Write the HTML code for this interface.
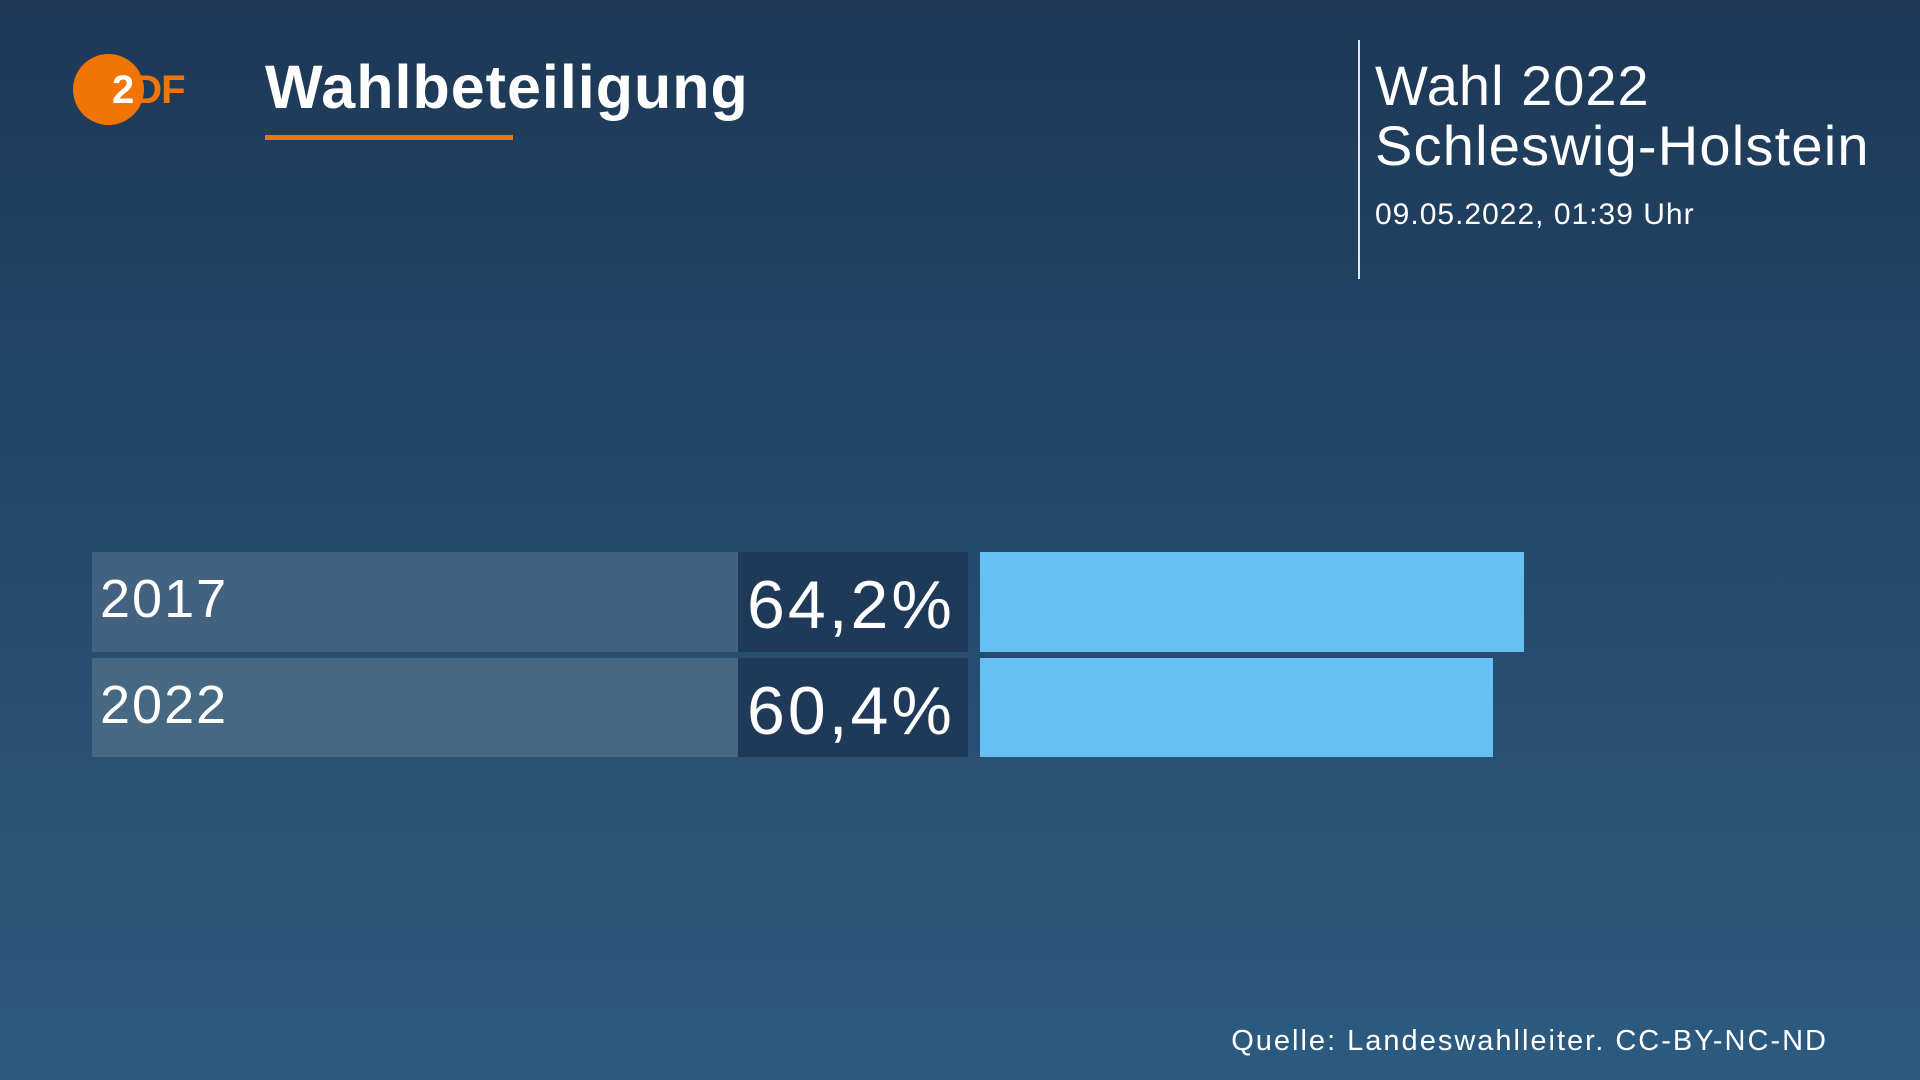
<!DOCTYPE html>
<html><head><meta charset="utf-8"><style>
body{margin:0;width:1920px;height:1080px;overflow:hidden;background:linear-gradient(180deg,#1e3856 0%,#244a6c 50%,#2d5b80 100%);font-family:"Liberation Sans",sans-serif;color:#fff;position:relative}
div{position:absolute}
.t{white-space:nowrap;line-height:1}
</style></head><body>
<div style="left:73px;top:54px;width:71px;height:71px;border-radius:50%;background:#f27405"></div>
<div class="t" style="left:112px;top:70px;font-size:40px;font-weight:bold;letter-spacing:-1px;color:#fff">2<span style="color:#f27405">DF</span></div>
<div class="t" style="left:265px;top:57px;font-size:61px;font-weight:bold;letter-spacing:1px">Wahlbeteiligung</div>
<div style="left:265px;top:135px;width:248px;height:5px;background:#f27405"></div>
<div style="left:1358px;top:40px;width:2px;height:239px;background:#dfe6ee"></div>
<div class="t" style="left:1375px;top:58px;font-size:56px;letter-spacing:1px">Wahl 2022</div>
<div class="t" style="left:1375px;top:118px;font-size:56px;letter-spacing:1.2px">Schleswig-Holstein</div>
<div class="t" style="left:1375px;top:200px;font-size:30px;letter-spacing:1px">09.05.2022, 01:39 Uhr</div>

<div style="left:92px;top:552px;width:646px;height:100px;background:#43627f"></div>
<div style="left:738px;top:552px;width:230px;height:100px;background:#1e3a58"></div>
<div style="left:980px;top:552px;width:544px;height:100px;background:#67bff4"></div>
<div class="t" style="left:100px;top:572px;font-size:54px;letter-spacing:2px">2017</div>
<div class="t" style="left:747px;top:571px;font-size:68px;letter-spacing:3px">64,2%</div>

<div style="left:92px;top:658px;width:646px;height:99px;background:#466883"></div>
<div style="left:738px;top:658px;width:230px;height:99px;background:#1e3a58"></div>
<div style="left:980px;top:658px;width:513px;height:99px;background:#67bff4"></div>
<div class="t" style="left:100px;top:678px;font-size:54px;letter-spacing:2px">2022</div>
<div class="t" style="left:747px;top:677px;font-size:68px;letter-spacing:3px">60,4%</div>

<div class="t" style="right:92px;top:1027px;font-size:29px;letter-spacing:2px">Quelle: Landeswahlleiter. CC-BY-NC-ND</div>
</body></html>
